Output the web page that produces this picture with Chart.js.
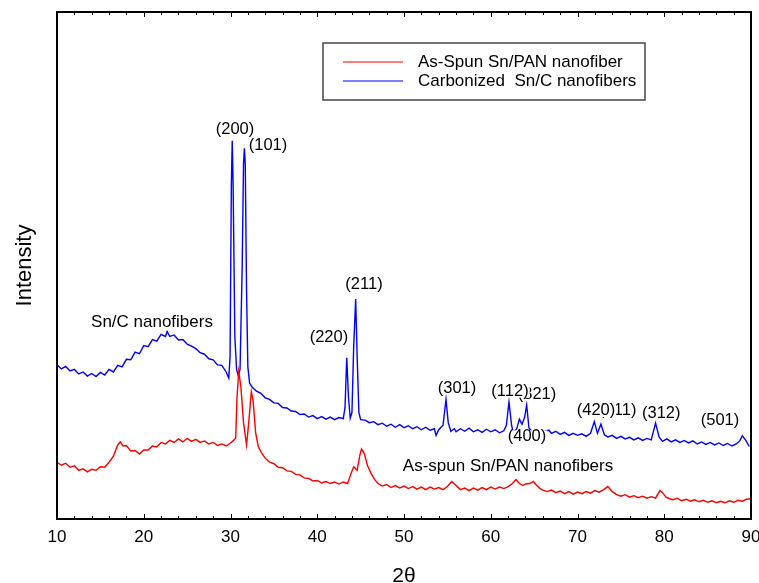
<!DOCTYPE html>
<html><head><meta charset="utf-8">
<script src="https://cdn.jsdelivr.net/npm/chart.js@4.4.0/dist/chart.umd.min.js"></script>
<style>html,body{margin:0;padding:0;background:#fff}#wrap{width:759px;height:583px}</style>
</head><body><div id="wrap"><canvas id="c" width="759" height="583"></canvas></div>
<script>
// ---------- data ----------
const seriesNames = ['As-Spun Sn/PAN nanofiber', 'Carbonized  Sn/C nanofibers'];
const xTicks = [10, 20, 30, 40, 50, 60, 70, 80, 90];

const redX = [10,10.5,11,11.5,12,12.5,13,13.5,14,14.5,15,15.5,16,16.5,17,17.3,17.6,18,18.5,19,19.5,20,20.5,21,21.5,22,22.5,23,23.5,24,24.5,25,25.5,26,26.5,27,27.5,28,28.5,29,29.5,30,30.3,30.6,30.75,30.95,31.2,31.5,31.85,32.1,32.4,32.6,32.9,33.2,33.6,34,34.5,35,35.5,36,36.5,37,37.5,38,38.5,39,39.5,40,40.5,41,41.5,42,42.5,43,43.5,43.9,44.2,44.6,44.9,45.1,45.4,45.8,46.2,46.6,47,47.5,48,48.5,49,49.5,50,50.5,51,51.5,52,52.5,53,53.5,54,54.5,55,55.5,56,56.5,57,57.5,58,58.5,59,59.5,60,60.5,61,61.5,62,62.5,62.9,63.3,63.7,64,64.5,64.9,65.3,65.7,66,66.5,67,67.5,68,68.5,69,69.5,70,70.5,71,71.5,72,72.5,73,73.5,74,74.5,75,75.5,76,76.5,77,77.5,78,78.5,79,79.5,79.8,80.2,80.6,81,81.5,82,82.5,83,83.5,84,84.5,85,85.5,86,86.5,87,87.5,88,88.5,89,89.5,89.9];
const redY = [11.2,10.6,11.0,10.2,10.5,9.6,9.9,9.3,9.8,9.6,10.3,10.2,11.2,12.4,14.6,15.2,14.4,14.5,13.4,13.5,12.8,13.6,13.6,14.4,14.2,15.1,14.8,15.5,15.1,15.8,15.2,15.9,15.3,15.7,15.1,15.4,14.8,15.1,14.5,14.8,14.4,15.0,15.4,16.0,24.0,29.1,26.0,19.0,14.6,19.0,25.1,23.5,17.0,14.3,13.0,12.0,11.2,10.9,10.2,10.1,9.5,9.4,8.8,8.7,8.1,8.0,7.5,7.6,7.1,7.4,7.0,7.3,6.9,7.3,7.0,9.0,10.3,9.6,12.5,13.8,13.0,10.5,9.0,7.8,7.0,6.5,6.8,6.2,6.6,6.1,6.5,6.0,6.4,5.9,6.3,5.8,6.3,5.9,6.2,5.8,6.4,7.4,6.6,5.8,6.1,5.6,6.1,5.7,6.2,5.8,6.3,5.9,6.3,6.0,6.4,7.0,7.8,7.0,6.6,6.9,7.0,7.4,6.6,6.0,5.7,5.4,5.7,5.2,5.5,5.0,5.4,4.9,5.3,5.0,5.4,5.1,5.6,5.3,5.8,6.4,5.4,4.8,4.5,4.8,4.3,4.6,4.2,4.5,4.1,4.4,4.1,5.6,5.2,4.3,4.0,3.8,4.1,3.6,3.9,3.5,3.8,3.4,3.7,3.3,3.6,3.2,3.5,3.2,3.6,3.3,3.7,3.5,3.9,4.0];

const blueX = [10,10.5,11,11.5,12,12.5,13,13.5,14,14.5,15,15.5,16,16.5,17,17.5,18,18.5,19,19.5,20,20.5,21,21.5,22,22.5,22.7,23,23.5,24,24.5,25,25.5,26,26.5,27,27.5,28,28.5,29,29.5,29.8,29.95,30.1,30.2,30.3,30.5,30.7,30.9,31.1,31.35,31.5,31.6,31.7,31.85,32.0,32.2,32.5,33,33.5,34,34.5,35,35.5,36,36.5,37,37.5,38,38.5,39,39.5,40,40.5,41,41.5,42,42.5,43,43.2,43.4,43.6,43.8,44.0,44.2,44.43,44.6,44.8,45,45.5,46,46.5,47,47.5,48,48.5,49,49.5,50,50.5,51,51.5,52,52.5,53,53.5,53.7,54,54.5,54.84,55.1,55.4,55.8,56,56.5,57,57.5,58,58.5,59,59.5,60,60.5,61,61.5,61.8,62.1,62.4,62.6,63.0,63.3,63.6,63.9,64.14,64.4,64.8,65.3,65.8,66.3,66.7,67,67.5,68,68.5,69,69.5,70,70.5,71,71.5,71.94,72.3,72.7,73.1,73.5,74,74.5,75,75.5,76,76.5,77,77.5,78,78.5,79,79.4,79.8,80.3,80.8,81.3,81.8,82.3,82.8,83.3,83.8,84.3,84.8,85.3,85.8,86.3,86.8,87.3,87.8,88.3,88.7,89.0,89.4,89.8];
const blueY = [30.4,29.6,30.1,29.2,29.5,28.6,29.0,28.2,28.7,28.1,28.9,28.4,29.5,29.0,30.3,30.0,31.5,31.4,32.9,32.6,34.2,34.0,35.4,35.1,36.4,36.0,37.0,36.0,36.3,35.3,35.4,34.5,34.1,33.6,32.8,32.5,31.6,31.4,30.4,30.3,29.0,27.8,32.0,66.0,74.6,66.0,36.0,29.5,28.2,29.5,50.0,70.0,73.1,70.0,45.0,30.0,26.8,26.0,25.2,24.8,23.9,23.6,22.9,22.8,22.0,21.9,21.3,21.2,20.6,20.7,20.1,20.4,19.8,20.2,19.7,20.1,19.6,20.0,19.8,22.0,31.8,24.0,19.9,21.0,34.0,43.4,32.0,21.0,19.6,19.5,19.0,19.2,18.6,18.9,18.3,18.7,18.1,18.6,18.0,18.4,17.8,18.2,17.6,18.1,17.5,17.8,16.5,17.6,18.5,23.6,19.0,17.3,17.8,17.2,17.8,17.3,17.9,17.2,17.6,17.1,17.7,17.2,17.6,17.0,17.4,18.5,23.1,18.5,17.0,17.8,19.7,18.7,20.0,22.5,18.0,17.1,17.5,17.0,17.4,17.5,16.9,17.3,16.7,17.1,16.5,16.9,16.5,16.8,16.3,16.9,19.2,16.9,18.7,16.6,16.2,16.5,15.9,16.3,15.8,16.1,15.6,16.0,15.5,15.9,15.6,18.9,16.2,15.3,15.8,15.2,15.6,15.1,15.5,15.0,15.4,14.8,15.2,14.7,15.1,14.6,15.0,14.5,14.9,14.4,14.8,15.4,16.4,15.5,14.3];

// peak index labels (drawn in this order; later ones sit on top)
const peakLabels = ['(200)','(101)','(220)','(211)','(301)','(321)','(112)','(400)','(411)','(420)','(312)','(501)'];
const peakLabelX = [30.52, 34.32, 41.35, 45.39, 56.11, 65.33, 62.22, 64.18, 74.64, 72.13, 79.65, 86.43];
const peakLabelY = [76.9, 73.6, 35.9, 46.2, 25.8, 24.5, 25.2, 16.2, 21.4, 21.4, 20.9, 19.5];

const sampleLabels = ['Sn/C nanofibers', 'As-spun Sn/PAN nanofibers'];
const sampleLabelX = [20.95, 61.99];
const sampleLabelY = [38.7, 10.3];

// ---------- chart ----------
const FONT = '"Liberation Sans", Arial, Helvetica, sans-serif';
const toPts = (xs, ys) => xs.map((v, i) => ({x: v, y: ys[i]}));

const decorPlugin = {
  id: 'decor',
  afterDatasetsDraw(chart) {
    const {ctx, scales: {x, y}} = chart;
    ctx.save();
    ctx.textAlign = 'center';
    ctx.textBaseline = 'middle';
    ctx.fillStyle = '#000';
    ctx.font = '17px ' + FONT;
    sampleLabels.forEach((t, i) => {
      ctx.fillText(t, x.getPixelForValue(sampleLabelX[i]), y.getPixelForValue(sampleLabelY[i]));
    });
    ctx.font = '16.5px ' + FONT;
    peakLabels.forEach((t, i) => {
      const px = x.getPixelForValue(peakLabelX[i]);
      const py = y.getPixelForValue(peakLabelY[i]);
      const w = ctx.measureText(t).width;
      ctx.fillStyle = '#fff';
      ctx.fillRect(px - w / 2 - 1, py - 6.5, w + 2, 13);
      ctx.fillStyle = '#000';
      ctx.fillText(t, px, py);
    });
    ctx.restore();
  },
  afterDraw(chart) {
    const {ctx, chartArea: a, scales: {x}} = chart;
    ctx.save();
    ctx.strokeStyle = '#000';
    ctx.lineWidth = 1;
    for (let v = 10; v <= 90; v += 2) {
      const px = Math.round(x.getPixelForValue(v)) + 0.5;
      const len = (v % 10 === 0) ? 5 : 3;
      ctx.beginPath();
      ctx.moveTo(px, a.bottom); ctx.lineTo(px, a.bottom - len);
      ctx.moveTo(px, a.top); ctx.lineTo(px, a.top + len);
      ctx.stroke();
    }
    ctx.lineWidth = 2;
    ctx.strokeRect(a.left, a.top, a.right - a.left, a.bottom - a.top);

    // legend
    const lx = 323, ly = 43, lw = 322, lh = 57;
    ctx.fillStyle = '#fff';
    ctx.fillRect(lx, ly, lw, lh);
    ctx.strokeStyle = '#444';
    ctx.lineWidth = 1.5;
    ctx.strokeRect(lx, ly, lw, lh);
    ctx.font = '17px ' + FONT;
    ctx.textAlign = 'left';
    ctx.textBaseline = 'middle';
    chart.data.datasets.forEach((ds, i) => {
      const yy = ly + 19 + i * 19;
      ctx.strokeStyle = ds.borderColor;
      ctx.lineWidth = 1.2;
      ctx.beginPath();
      ctx.moveTo(lx + 20, yy); ctx.lineTo(lx + 80, yy);
      ctx.stroke();
      ctx.fillStyle = '#000';
      ctx.fillText(ds.label, lx + 95, yy);
    });
    ctx.restore();
  }
};

new Chart(document.getElementById('c'), {
  type: 'scatter',
  data: {
    datasets: [
      {label: seriesNames[0], data: toPts(redX, redY), borderColor: 'rgb(255,0,0)', backgroundColor: 'rgb(255,0,0)', showLine: true, pointRadius: 0, borderWidth: 1.4, tension: 0},
      {label: seriesNames[1], data: toPts(blueX, blueY), borderColor: 'rgb(0,0,255)', backgroundColor: 'rgb(0,0,255)', showLine: true, pointRadius: 0, borderWidth: 1.4, tension: 0}
    ]
  },
  options: {
    responsive: false,
    animation: false,
    layout: {padding: {top: 12, right: 8, left: 0, bottom: 0}},
    plugins: {legend: {display: false}, tooltip: {enabled: false}},
    scales: {
      x: {
        type: 'linear', min: 10, max: 90,
        afterBuildTicks: (s) => { s.ticks = xTicks.map(v => ({value: v})); },
        afterFit: (s) => { s.height = 64; s.paddingLeft = 0; s.paddingRight = 0; },
        grid: {display: false, drawTicks: false},
        border: {display: false},
        ticks: {padding: 8, color: '#000', font: {family: FONT, size: 17}, maxRotation: 0},
        title: {display: true, text: '2θ', color: '#000', font: {family: FONT, size: 21}, padding: {top: 0, bottom: -6}}
      },
      y: {
        min: 0, max: 100,
        afterFit: (s) => { s.width = 57; s.paddingTop = 0; s.paddingBottom = 0; },
        grid: {display: false, drawTicks: false},
        border: {display: false},
        ticks: {display: false},
        title: {display: true, text: 'Intensity', color: '#000', font: {family: FONT, size: 22}, padding: {top: 12, bottom: 0}}
      }
    }
  },
  plugins: [decorPlugin]
});
</script>
</body></html>
